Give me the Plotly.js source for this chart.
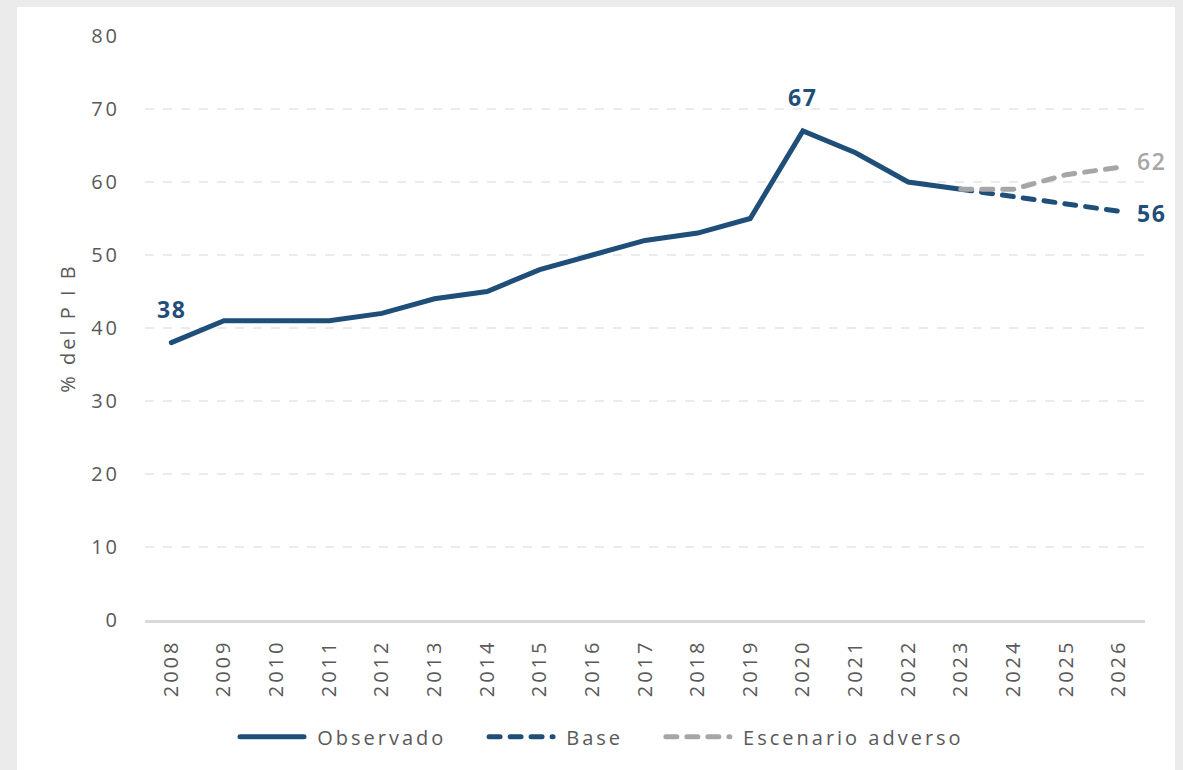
<!DOCTYPE html>
<html>
<head>
<meta charset="utf-8">
<script src="https://cdn.plot.ly/plotly-3.0.1.min.js"></script>
<style>
  body { margin: 0; background: #ebebeb; }
  #graph { position: absolute; left: 17px; top: 7px; width: 1158px; height: 763px; }
  .xtick text, .ytick text { letter-spacing: 3px; }
  .legendtext, .ytitle { letter-spacing: 3px; }
  .annotation-text { letter-spacing: 1.5px; }
  .scatterlayer path.js-line, .legendlines path { stroke-linecap: round; }
</style>
</head>
<body>
<div id="graph"></div>
<script>
var years = ["2008", "2009", "2010", "2011", "2012", "2013", "2014", "2015", "2016",
             "2017", "2018", "2019", "2020", "2021", "2022", "2023", "2024", "2025", "2026"];
var obsYears = years.slice(0, 16);
var observado = [38, 41, 41, 41, 42, 44, 45, 48, 50, 52, 53, 55, 67, 64, 60, 59];
var projYears = ["2023", "2024", "2025", "2026"];
var base = [59, 58, 57, 56];
var adverso = [59, 59, 61, 62];

var navy = "#1f4e79";
var grey = "#a6a6a6";
var pad = "\u00a0\u00a0\u00a0\u00a0";
var lead = "\u00a0";

function drawGraph() {
    var obs = {
        x: obsYears,
        y: observado,
        type: 'scatter',
        mode: 'lines',
        name: lead + 'Observado' + pad,
        line: { color: navy, width: 5 }
    };
    var baseLine = {
        x: projYears,
        y: base,
        type: 'scatter',
        mode: 'lines',
        name: lead + 'Base' + pad,
        line: { color: navy, width: 5, dash: '11px,10px' }
    };
    var advLine = {
        x: projYears,
        y: adverso,
        type: 'scatter',
        mode: 'lines',
        name: lead + 'Escenario adverso',
        line: { color: grey, width: 5, dash: '11px,10px' }
    };
    var data = [obs, baseLine, advLine];

    var labelFont = { family: "Open Sans, sans-serif", size: 23, color: navy, weight: 700 };
    var annotations = [
        { x: years.indexOf("2008"), y: observado[0], text: "38", showarrow: false, yanchor: 'middle', yshift: 34, font: labelFont },
        { x: years.indexOf("2020"), y: observado[12], text: "67", showarrow: false, yanchor: 'middle', yshift: 34, font: labelFont },
        { x: years.indexOf("2026"), y: adverso[3], text: "62", showarrow: false, xanchor: 'left', xshift: 16, yshift: 6,
          font: { family: "Open Sans, sans-serif", size: 23, color: grey, weight: 600 } },
        { x: years.indexOf("2026"), y: base[3], text: "56", showarrow: false, xanchor: 'left', xshift: 16, yshift: -2, font: labelFont }
    ];

    var layout = {
        width: 1158,
        height: 763,
        margin: { l: 128, r: 30, t: 29, b: 150 },
        paper_bgcolor: "#ffffff",
        plot_bgcolor: "#ffffff",
        font: { family: "Open Sans, sans-serif", size: 20, color: "#595959" },
        showlegend: true,
        legend: {
            orientation: 'h',
            x: 0.457,
            xanchor: 'center',
            y: -0.2,
            yanchor: 'middle',
            font: { size: 20, color: "#595959" },
            itemwidth: 64
        },
        xaxis: {
            type: 'category',
            categoryarray: years,
            categoryorder: 'array',
            range: [-0.5, 18.5],
            tickangle: -90,
            showgrid: false,
            showline: true,
            linecolor: "#d9d9d9",
            linewidth: 2.5,
            ticks: '',
            ticklabelstandoff: 9,
            tickfont: { size: 20, color: "#595959" },
            fixedrange: true
        },
        yaxis: {
            range: [0, 80],
            dtick: 10,
            showgrid: true,
            gridcolor: "#ebebeb",
            gridwidth: 1.5,
            griddash: 'dash',
            zeroline: false,
            showline: false,
            ticks: '',
            ticklabelstandoff: 24,
            tickfont: { size: 20, color: "#595959" },
            title: { text: "% del P I B", font: { size: 20, color: "#595959" }, standoff: 10 },
            fixedrange: true
        },
        annotations: annotations
    };

    Plotly.newPlot("graph", data, layout, { displayModeBar: false, staticPlot: true });
}
drawGraph();
</script>
</body>
</html>
